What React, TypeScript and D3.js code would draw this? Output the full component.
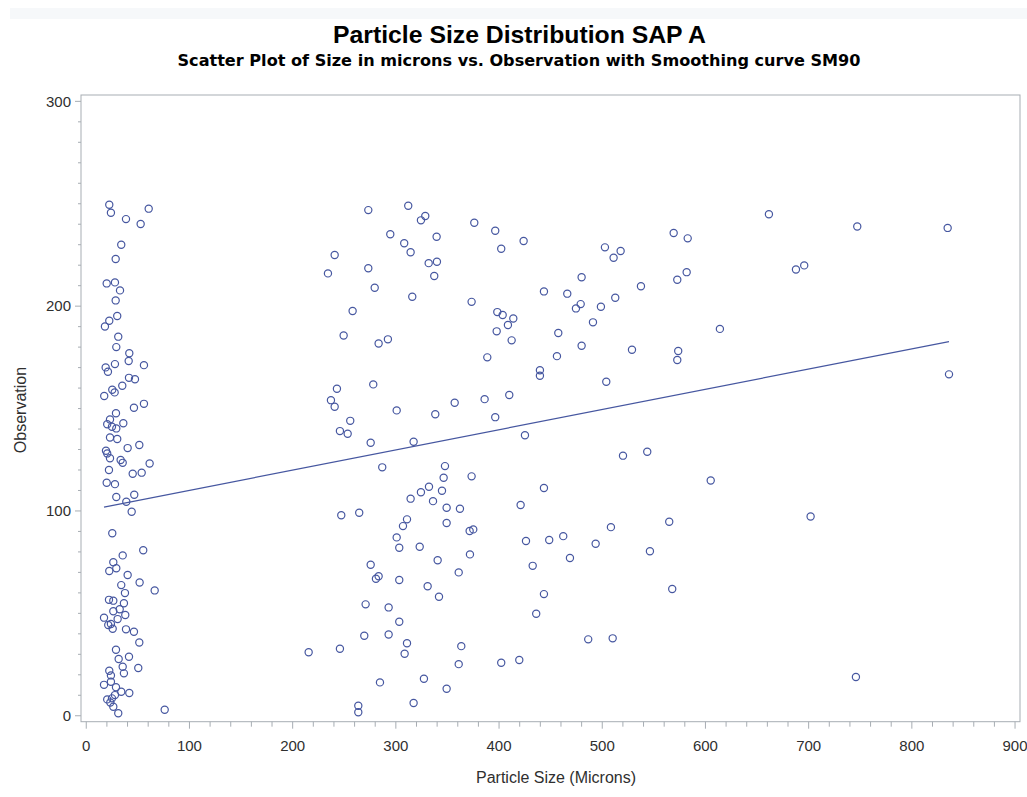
import React from "react";
import * as d3 from "d3";

// Particle size (microns) vs observation number
const lowSizeGroup: [number, number][] = [
  [22.3,249.5],[23.9,245.6],[60.5,247.6],[38.5,242.5],[52.7,240.1],[33.9,230],[28.5,223],[19.8,211.1],[27.8,211.6],[32.7,207.7],
  [28.5,202.8],[30,195.2],[22.3,192.9],[18.1,190.1],[31,185.1],[29.1,180],[41.7,177],[41.1,173.2],[27.8,171.7],[18.8,170.1],
  [21,168],[55.9,171.2],[41.4,165],[47.2,164.3],[34.9,161.1],[25.2,159.2],[27.5,157.9],[17.4,156.1],[55.9,152.3],[46.2,150.4],
  [28.8,147.7],[23,144.7],[20.3,142.3],[24.9,141.1],[29.1,140.3],[35.9,142.8],[23,135.9],[30,135.1],[40.1,130.7],[51.4,132.2],
  [19.1,129.4],[20.3,128.1],[23,125.7],[33.3,124.9],[35.3,123.5],[61.4,123.2],[22,120],[45,118.2],[53.7,118.7],[19.8,113.8],
  [27.8,113.1],[29.1,106.8],[38.8,104.5],[46.5,107.9],[44,99.6],[25.2,89.1],[55.2,80.8],[35.3,78.3],[26.2,75],[22.3,70.7],
  [29.1,72],[40.1,68.7],[33.9,63.8],[51.7,65.1],[37.5,59.9],[66.3,61.2],[22,56.6],[26.2,56.2],[36.5,54.9],[32.4,52],
  [26.2,51],[17.2,47.9],[30.4,47.2],[37.8,49.2],[21.3,44.3],[23.9,44.8],[25.6,42.5],[38.5,42.2],[46.2,41],[51.4,35.8],
  [28.8,32.2],[31.4,27.7],[41.4,28.8],[35.3,23.9],[50.4,23.3],[36.5,20.7],[22.3,22],[23.9,19.7],[17.2,15.1],[23.9,16.6],
  [28.8,13.9],[33.9,11.7],[41.7,11.1],[27.8,10.1],[20.3,8],[24.9,8.5],[23.3,6.5],[26.2,4.4],[31,1.2],[76,2.9],
];

const midUpperGroup: [number, number][] = [
  [273.3,246.9],[312,249],[328.5,244],[324.3,241.9],[294.6,235.1],[339.5,233.9],[308.1,230.7],[314.3,226.3],[240.7,225],[234.2,216],
  [273.3,218.5],[331.8,221],[339.8,221.7],[337.2,214.7],[279.5,209],[315.9,204.6],[258.1,197.6],[249.4,185.7],[283.3,181.8],[292.3,183.8],
  [242.9,159.7],[278.1,161.8],[237.1,154.1],[240.7,150.9],[300.8,149.1],[338.2,147.2],[255.8,144],[245.8,139],[253.3,137.7],[275.6,133.3],
  [317.2,133.8],
];

const midLowerGroup: [number, number][] = [
  [286.8,121.3],[347.6,121.9],[346.3,116.2],[332.1,111.8],[324.3,109.1],[344.7,109.9],[314.3,106],[336,104.8],[349.2,101.6],[247.1,97.9],
  [264.5,99.1],[310.8,95.9],[306.9,92.6],[349.2,94.1],[300.8,87.1],[303.3,82],[323.1,82.5],[340.5,75.9],[275.6,73.7],[280.7,66.9],
  [283.3,68.1],[303.3,66.3],[330.8,63.2],[341.8,58.1],[270.7,54.4],[293,52.9],[303.3,45.9],[269.4,39.1],[293,39.7],[310.8,35.4],
  [308.5,30.3],[215.5,31],[245.8,32.7],[284.6,16.3],[327.2,18.1],[349.2,13.2],[317.2,6.2],[263.6,4.9],[263.6,1.7],
];

const highUpperGroup: [number, number][] = [
  [376,240.7],[396.3,236.8],[402.1,228],[423.8,231.8],[373.4,202.1],[398.3,197.1],[403.5,195.7],[413.8,194],[408.6,190.8],[397.7,187.7],
  [412.2,183.3],[388.6,175],[443.5,207.2],[466.1,206.1],[480,214.1],[479.1,201],[474.5,198.9],[457.4,186.9],[456.1,175.6],[480,180.7],
  [491,192.1],[498.7,199.7],[512.6,204.1],[502.6,228.7],[511,223.6],[517.8,226.9],[537.5,209.7],[569.2,235.7],[582.8,233.1],[572.7,212.9],
  [581.8,216.6],[528.8,178.7],[573.6,178.1],[572.7,173.7],[439.6,168.7],[439.6,166],[503.9,163.1],[357,152.8],[386,154.6],[409.9,156.6],
  [396.3,145.8],[425.1,137],[520.1,127],[543.6,128.9],
];

const highLowerGroup: [number, number][] = [
  [373.4,116.9],[362.1,101.1],[371.5,90.2],[375,91],[371.8,78.8],[360.9,70],[443.5,111.2],[420.9,102.9],[426.1,85.3],[448.6,85.8],
  [462.2,87.7],[468.7,77],[432.6,73.2],[493.6,84],[508.4,92.1],[564.9,94.7],[546.2,80.3],[567.8,61.9],[443.5,59.4],[436,49.8],
  [486.4,37.3],[510.1,37.8],[363.4,34],[360.9,25.2],[402.1,25.9],[419.6,27.2],
];

const largestGroup: [number, number][] = [
  [661.5,244.9],[747.1,238.9],[834.7,238.2],[687.7,217.9],[695.7,219.9],[614,188.9],[836,166.7],[605.1,114.9],[701.9,97.3],[745.8,18.9],
];

// Smoothing curve SM90 (appears linear) end points
const smoothX = [17.2, 836];
const smoothY = [101.9, 182.7];

const xMajorTicks = [0, 100, 200, 300, 400, 500, 600, 700, 800, 900];
const yMajorTicks = [0, 100, 200, 300];

const titleText = "Particle Size Distribution SAP A";
const subtitleText = "Scatter Plot of Size in microns vs. Observation with Smoothing curve SM90";
const xLabel = "Particle Size (Microns)";
const yLabel = "Observation";

const allPoints = [
  ...lowSizeGroup,
  ...midUpperGroup,
  ...midLowerGroup,
  ...highUpperGroup,
  ...highLowerGroup,
  ...largestGroup,
];

export default function App() {
  const W = 1027;
  const H = 797;
  const left = 81, right = 1020, top = 95, bottom = 721.7;
  const x = d3.scaleLinear().domain([-5.1, 904.8]).range([left, right]);
  const y = d3.scaleLinear().domain([-2.9, 303.1]).range([bottom, top]);

  const xMinor = d3.range(0, 901, 20).filter((v) => v % 100 !== 0);
  const yMinor = d3.range(0, 301, 10).filter((v) => v % 100 !== 0);

  const line = d3
    .line<number>()
    .x((_, i) => x(smoothX[i]))
    .y((d) => y(d));

  const color = "#4657a0";
  const axisColor = "#a7adb3";
  const textColor = "#2f2f2f";
  const sans = "'Liberation Sans', Arial, sans-serif";

  return (
    <svg
      width={W}
      height={H}
      style={{ position: "absolute", left: 0, top: 0, display: "block", background: "#fff" }}
    >
      <rect x={0} y={0} width={W} height={H} fill="#ffffff" />
      <rect x={10} y={8} width={W - 10} height={11} fill="#f6f8fa" />
      <text
        x={519.5}
        y={43}
        textAnchor="middle"
        fontFamily={sans}
        fontWeight="bold"
        fontSize={24}
        fill="#000"
        textLength={373}
        lengthAdjust="spacingAndGlyphs"
      >
        {titleText}
      </text>
      <text
        x={519}
        y={66}
        textAnchor="middle"
        fontFamily="'DejaVu Sans', Verdana, sans-serif"
        fontWeight="bold"
        fontSize={16}
        fill="#000"
        textLength={683}
        lengthAdjust="spacingAndGlyphs"
      >
        {subtitleText}
      </text>

      {/* frame */}
      <rect x={left} y={top} width={right - left} height={bottom - top} fill="none" stroke={axisColor} strokeWidth={1} />

      {/* y axis ticks */}
      {yMajorTicks.map((t) => (
        <g key={"ym" + t}>
          <line x1={left - 6} x2={left} y1={y(t)} y2={y(t)} stroke={axisColor} />
          <text x={left - 10} y={y(t)} dy="0.35em" textAnchor="end" fontFamily={sans} fontSize={15} fill={textColor}>
            {t}
          </text>
        </g>
      ))}
      {yMinor.map((t) => (
        <line key={"yn" + t} x1={left - 3} x2={left} y1={y(t)} y2={y(t)} stroke={axisColor} />
      ))}

      {/* x axis ticks */}
      {xMajorTicks.map((t) => (
        <g key={"xm" + t}>
          <line x1={x(t)} x2={x(t)} y1={bottom} y2={bottom + 7} stroke={axisColor} />
          <text x={x(t)} y={751} textAnchor="middle" fontFamily={sans} fontSize={15} fill={textColor}>
            {t}
          </text>
        </g>
      ))}
      {xMinor.map((t) => (
        <line key={"xn" + t} x1={x(t)} x2={x(t)} y1={bottom} y2={bottom + 5} stroke={axisColor} />
      ))}

      <text x={556} y={783} textAnchor="middle" fontFamily={sans} fontSize={16} fill={textColor}>
        {xLabel}
      </text>
      <text
        transform={`translate(26, 410) rotate(-90)`}
        textAnchor="middle"
        fontFamily={sans}
        fontSize={16}
        fill={textColor}
      >
        {yLabel}
      </text>

      {/* points */}
      {allPoints.map(([px, py], i) => (
        <circle key={i} cx={x(px)} cy={y(py)} r={3.6} fill="none" stroke={color} strokeWidth={1.2} />
      ))}

      {/* smoothing line */}
      <path d={line(smoothY) || ""} fill="none" stroke={color} strokeWidth={1.2} />
    </svg>
  );
}
